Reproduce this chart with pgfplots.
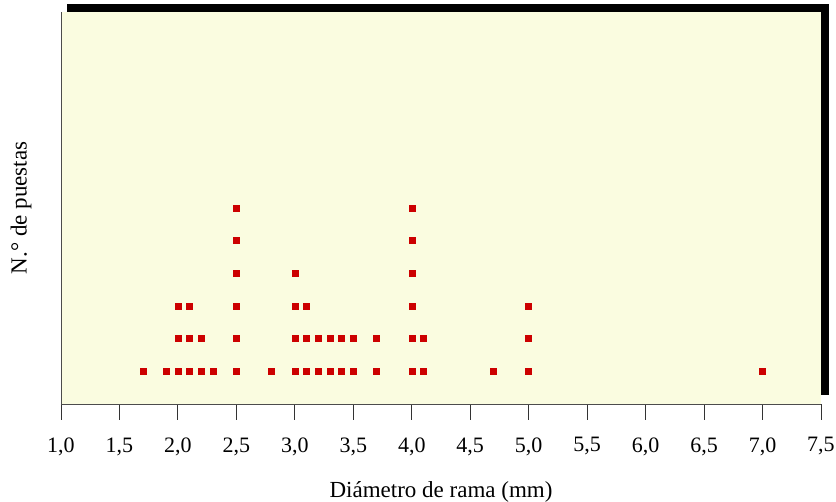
\documentclass[border=0pt]{standalone}
\usepackage{pgfplots}
\pgfplotsset{compat=1.18}
\usepackage{fontspec}
\setmainfont{Liberation Serif}
\definecolor{bgyellow}{RGB}{250,252,224}
\definecolor{dotred}{RGB}{204,0,0}
\begin{document}
\begin{tikzpicture}
\fill[black] (6pt,9pt) rectangle (768pt,400pt);
\begin{axis}[
  scale only axis,
  width=760pt, height=392pt,
  xmin=1, xmax=7.5, ymin=0, ymax=12,
  axis background/.style={fill=bgyellow},
  axis x line*=bottom, axis y line*=left,
  axis line style={-, draw=black!70, line width=0.8pt},
  xtick={1,1.5,...,7.5},
  ytick=\empty,
  tick align=outside,
  major tick length=16pt,
  xtick style={draw=black!80, line width=0.9pt},
  xticklabel style={font=\fontsize{22}{22}\selectfont, yshift=-14pt},
  /pgf/number format/assume math mode=true,
  /pgf/number format/.cd, fixed, fixed zerofill, precision=1, use comma,
  /pgfplots/.cd,
  xlabel={Diámetro de rama (mm)},
  ylabel={N.° de puestas},
  xlabel style={font=\fontsize{23}{23}\selectfont, yshift=-19pt},
  ylabel style={font=\fontsize{23}{23}\selectfont, yshift=10pt},
  clip=false,
]
\addplot[only marks, mark=square*, mark size=3pt, color=dotred] coordinates {
(1.7,1)
(1.9,1)
(2.0,1) (2.0,2) (2.0,3)
(2.1,1) (2.1,2) (2.1,3)
(2.2,1) (2.2,2)
(2.3,1)
(2.5,1) (2.5,2) (2.5,3) (2.5,4) (2.5,5) (2.5,6)
(2.8,1)
(3.0,1) (3.0,2) (3.0,3) (3.0,4)
(3.1,1) (3.1,2) (3.1,3)
(3.2,1) (3.2,2)
(3.3,1) (3.3,2)
(3.4,1) (3.4,2)
(3.5,1) (3.5,2)
(3.7,1) (3.7,2)
(4.0,1) (4.0,2) (4.0,3) (4.0,4) (4.0,5) (4.0,6)
(4.1,1) (4.1,2)
(4.7,1)
(5.0,1) (5.0,2) (5.0,3)
(7.0,1)
};
\end{axis}
\pgfresetboundingbox
\path (-61pt,-98pt) rectangle (775pt,404pt);
\end{tikzpicture}
\end{document}
